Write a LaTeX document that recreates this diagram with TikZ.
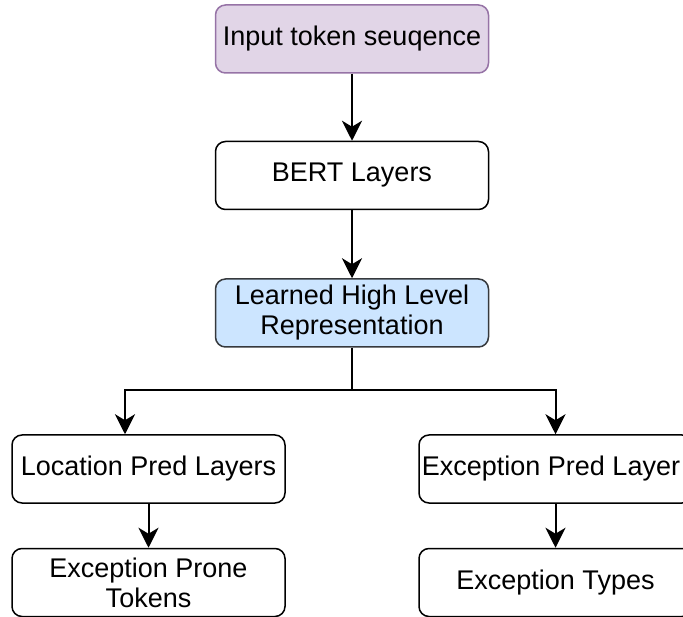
\documentclass[tikz,border=0pt]{standalone}
\usepackage{fontspec}
\setmainfont{Liberation Sans}
\usetikzlibrary{arrows.meta}

\definecolor{inpfill}{HTML}{E1D5E7}
\definecolor{inpline}{HTML}{9673A6}
\definecolor{repfill}{HTML}{CCE5FF}
\definecolor{repline}{HTML}{36393D}

\begin{document}
\begin{tikzpicture}[x=1pt,y=-1pt]
	\tikzstyle{box}=[rectangle,rounded corners=10pt,draw,line width=1.5pt,fill=white,minimum width=273pt,minimum height=68pt,inner sep=0pt,align=center,font=\fontsize{27}{30}\selectfont]
	\tikzstyle{inbox}=[box,draw=inpline,fill=inpfill]
	\tikzstyle{repbox}=[box,draw=repline,fill=repfill]
	\tikzstyle{arr}=[line width=2pt,-{Stealth[length=20pt,width=20pt,inset=6pt]}]
	\useasboundingbox (0,0) rectangle (683,617);
	\node[inbox] (inp) at (352,39){Input token seuqence};
	\node[box] (bert) at (352,175.5){BERT Layers};
	\node[repbox] (rep) at (352,313){Learned High Level\\Representation};
	\node[box] (loc) at (148.5,469){Location Pred Layers};
	\node[box] (exc) at (555.5,469){Exception Pred Layer\hspace*{9pt}};
	\node[box] (tok) at (148.5,582.5){Exception Prone\\Tokens};
	\node[box] (typ) at (555.5,582.5){Exception Types};
	\coordinate (split) at (352,390);
	\draw[arr] (inp) -- (bert);
	\draw[arr] (bert) -- (rep);
	\draw[line width=2pt] (rep) -- (split);
	\draw[arr] (split) -| ([xshift=-23.5pt]loc.north);
	\draw[arr] (split) -| (exc.north);
	\draw[arr] (loc) -- (tok);
	\draw[arr] (exc) -- (typ);
\end{tikzpicture}
\end{document}
